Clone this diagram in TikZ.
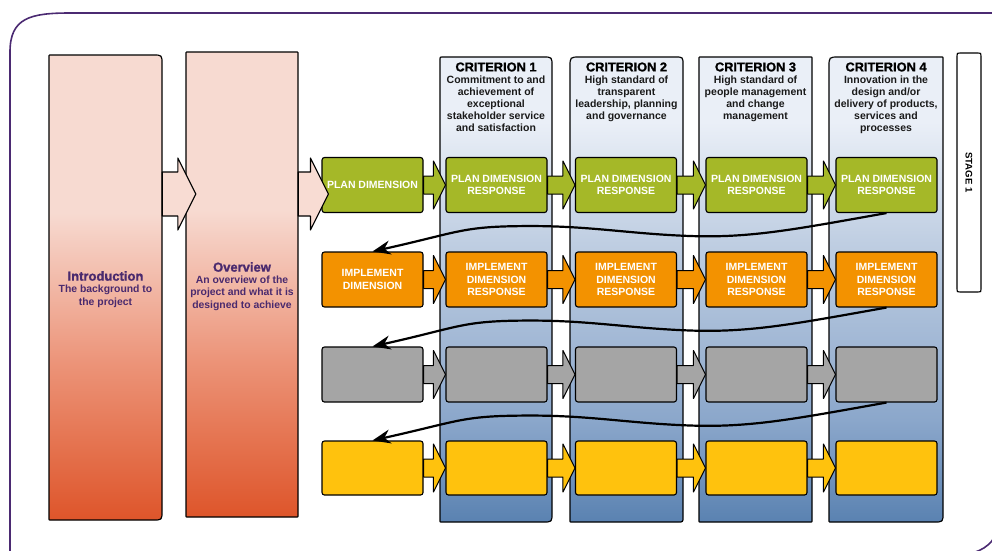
\documentclass[tikz,border=0pt]{standalone}
\usepackage{fontspec}
\setmainfont{Liberation Sans}
\newfontfamily\blackfont[FakeBold=1.2]{Liberation Sans Bold}
\usetikzlibrary{calc,arrows.meta}

\definecolor{framepurple}{HTML}{4B2A72}
\definecolor{txtpurple}{HTML}{4A2A6E}
\definecolor{pgreen}{HTML}{A5B828}
\definecolor{porange}{HTML}{F39200}
\definecolor{pgray}{HTML}{A5A5A5}
\definecolor{pyellow}{HTML}{FFC20D}
\definecolor{pinkarrow}{HTML}{F8DCD3}
\definecolor{inT}{HTML}{F7DAD1}
\definecolor{inM}{HTML}{EC9479}
\definecolor{inB}{HTML}{DE552A}
\definecolor{coT}{HTML}{EAEFF7}
\definecolor{coM}{HTML}{BFCEE2}
\definecolor{coMM}{HTML}{8BA7CB}
\definecolor{coB}{HTML}{5A82B1}
\definecolor{desctext}{HTML}{1A1A1A}

\pgfdeclareverticalshading{introshade}{100bp}{color(0bp)=(inB); color(25bp)=(inB); color(42bp)=(inM); color(58bp)=(inT); color(75bp)=(inT); color(100bp)=(inT)}
\pgfdeclareverticalshading{colshade}{100bp}{color(0bp)=(coB); color(25bp)=(coB); color(36bp)=(coMM); color(55bp)=(coM); color(68bp)=(coT); color(100bp)=(coT)}

% rounded box with individual corner radii: style, x1,y1,x2,y2, rTL,rTR,rBR,rBL
\newcommand\rbox[9]{%
  \path[#1] ({#2+#6},#3) -- ({#4-#7},#3) .. controls (#4,#3) .. (#4,{#3+#7})
    -- (#4,{#5-#8}) .. controls (#4,#5) .. ({#4-#8},#5)
    -- ({#2+#9},#5) .. controls (#2,#5) .. (#2,{#5-#9})
    -- (#2,{#3+#6}) .. controls (#2,#3) .. ({#2+#6},#3) -- cycle;}

% big pink arrow: from node, to node, y, overshoot
\newcommand\bigarrow[4]{%
  \path[bigarr] let \p1=(#1.east), \p2=(#2.west), \p3=(0,#3) in
    (\x1,{\y3+22pt}) -- ({\x2+#4pt-18pt},{\y3+22pt}) -- ({\x2+#4pt-18pt},{\y3+36pt})
    -- ({\x2+#4pt},\y3) -- ({\x2+#4pt-18pt},{\y3-36pt}) -- ({\x2+#4pt-18pt},{\y3-22pt})
    -- (\x1,{\y3-22pt}) -- cycle;}

% row arrow: colour, from node, to node
\newcommand\rowarrow[3]{%
  \path[draw=black, line width=1pt, line join=round, fill=#1] let \p1=(#2.east), \p2=(#3.west) in
    (\x1,{\y1+9pt}) -- ({\x2-12pt},{\y1+9pt}) -- ({\x2-12pt},{\y1+24pt}) -- (\x2,\y1)
    -- ({\x2-12pt},{\y1-24pt}) -- ({\x2-12pt},{\y1-9pt}) -- (\x1,{\y1-9pt}) -- cycle;}

\tikzset{
  bigbox/.style={draw=black, line width=1.2pt, line join=round, shading=introshade},
  colbox/.style={draw=black, line width=1.2pt, line join=round, shading=colshade},
  anchorbox/.style={inner sep=0pt, minimum width=#1},
  bigarr/.style={draw=black, line width=1.1pt, line join=round, fill=pinkarrow},
  rowbox/.style={draw=black, line width=1.1pt, rounded corners=2.5pt, minimum width=101pt,
    minimum height=55pt, inner sep=0pt, text=white, align=center,
    font=\bfseries\fontsize{10.5}{12.3}\selectfont},
  flow/.style={line width=2.2pt, -{Stealth[length=18pt,width=14pt]}},
  ttl/.style={text=txtpurple, font=\blackfont\fontsize{13}{15}\selectfont, inner sep=0pt},
  dsc/.style={text=txtpurple, font=\bfseries\fontsize{10.4}{12.4}\selectfont, align=center, inner sep=0pt},
  crit/.style={font=\blackfont\fontsize{12.8}{14}\selectfont, inner sep=0pt},
  critd/.style={text=desctext, font=\bfseries\fontsize{10.5}{12}\selectfont, align=center, anchor=north, inner sep=0pt},
  stagetxt/.style={font=\bfseries\fontsize{9.6}{11}\selectfont, rotate=-90, inner sep=0pt}
}

\begin{document}
\begin{tikzpicture}[x=1pt, y=-1pt]
\useasboundingbox (0,0) rectangle (992,550);
\clip (0,0) rectangle (992,550);

% outer frame
\draw[framepurple, line width=1.6pt] (10,570) -- (10,52) .. controls (10,18) and (30,13) .. (70,13)
  -- (1002,13) -- (1002,500) .. controls (1002,545) and (985,556) .. (940,557) -- (10,557);

% intro and overview panels
\rbox{bigbox}{49}{55}{162}{520}{0.6}{9}{9}{0.6}
\rbox{bigbox}{186}{52}{298}{517}{0.6}{0.6}{0.6}{0.6}
\node[anchorbox=113pt, minimum height=465pt] (intro) at (105.5,287.5) {};
\node[anchorbox=112pt, minimum height=465pt] (over) at (242,284.5) {};

% criterion columns
\rbox{colbox}{440}{57}{552}{522}{2}{9}{9}{0.6}
\rbox{colbox}{570}{57}{683}{522}{10}{8}{5}{0.6}
\rbox{colbox}{699}{57}{812}{522}{0.6}{0.6}{0.6}{0.6}
\rbox{colbox}{829}{57}{943}{522}{10}{0.6}{9}{0.6}
\node[anchorbox=112pt, minimum height=465pt] (crit1) at (496,289.5) {};
\node[anchorbox=113pt, minimum height=465pt] (crit2) at (626.5,289.5) {};
\node[anchorbox=113pt, minimum height=465pt] (crit3) at (755.5,289.5) {};
\node[anchorbox=114pt, minimum height=465pt] (crit4) at (886,289.5) {};

% stage box
\rbox{draw=black, line width=1.1pt, fill=white}{957}{53}{981}{292}{3}{3}{3}{3}
\node[stagetxt] (stage) at (969,172.5) {STAGE 1};

% big arrow intro -> overview
\bigarrow{intro}{over}{194}{10}

% row 1
\node[rowbox, fill=pgreen] (r1c0) at (372.5,185) {PLAN DIMENSION};
\node[rowbox, fill=pgreen] (r1c1) at (496.5,185) {PLAN DIMENSION\\RESPONSE};
\node[rowbox, fill=pgreen] (r1c2) at (626,185) {PLAN DIMENSION\\RESPONSE};
\node[rowbox, fill=pgreen] (r1c3) at (756.5,185) {PLAN DIMENSION\\RESPONSE};
\node[rowbox, fill=pgreen] (r1c4) at (886.5,185) {PLAN DIMENSION\\RESPONSE};
% row 2
\node[rowbox, fill=porange] (r2c0) at (372.5,279.5) {IMPLEMENT\\DIMENSION};
\node[rowbox, fill=porange] (r2c1) at (496.5,279.5) {IMPLEMENT\\DIMENSION\\RESPONSE};
\node[rowbox, fill=porange] (r2c2) at (626,279.5) {IMPLEMENT\\DIMENSION\\RESPONSE};
\node[rowbox, fill=porange] (r2c3) at (756.5,279.5) {IMPLEMENT\\DIMENSION\\RESPONSE};
\node[rowbox, fill=porange] (r2c4) at (886.5,279.5) {IMPLEMENT\\DIMENSION\\RESPONSE};
% row 3
\node[rowbox, fill=pgray] (r3c0) at (372.5,374.5) {};
\node[rowbox, fill=pgray] (r3c1) at (496.5,374.5) {};
\node[rowbox, fill=pgray] (r3c2) at (626,374.5) {};
\node[rowbox, fill=pgray] (r3c3) at (756.5,374.5) {};
\node[rowbox, fill=pgray] (r3c4) at (886.5,374.5) {};
% row 4
\node[rowbox, fill=pyellow, minimum height=54pt] (r4c0) at (372.5,468) {};
\node[rowbox, fill=pyellow, minimum height=54pt] (r4c1) at (496.5,468) {};
\node[rowbox, fill=pyellow, minimum height=54pt] (r4c2) at (626,468) {};
\node[rowbox, fill=pyellow, minimum height=54pt] (r4c3) at (756.5,468) {};
\node[rowbox, fill=pyellow, minimum height=54pt] (r4c4) at (886.5,468) {};

% big arrow overview -> plan
\bigarrow{over}{r1c0}{194}{7}

% row arrows
\rowarrow{pgreen}{r1c0}{r1c1}
\rowarrow{pgreen}{r1c1}{r1c2}
\rowarrow{pgreen}{r1c2}{r1c3}
\rowarrow{pgreen}{r1c3}{r1c4}
\rowarrow{porange}{r2c0}{r2c1}
\rowarrow{porange}{r2c1}{r2c2}
\rowarrow{porange}{r2c2}{r2c3}
\rowarrow{porange}{r2c3}{r2c4}
\rowarrow{pgray}{r3c0}{r3c1}
\rowarrow{pgray}{r3c1}{r3c2}
\rowarrow{pgray}{r3c2}{r3c3}
\rowarrow{pgray}{r3c3}{r3c4}
\rowarrow{pyellow}{r4c0}{r4c1}
\rowarrow{pyellow}{r4c1}{r4c2}
\rowarrow{pyellow}{r4c2}{r4c3}
\rowarrow{pyellow}{r4c3}{r4c4}

% return curves
\draw[flow] (r1c4.south) .. controls +(-90,16) and +(60,2) .. ++(-195,23)
  .. controls +(-60,-2) and +(60,0) .. ++(-160,-10)
  .. controls +(-70,0) and +(90,-20) .. (r2c0.north);
\draw[flow] (r2c4.south) .. controls +(-90,16) and +(60,2) .. ++(-195,23)
  .. controls +(-60,-2) and +(60,0) .. ++(-160,-10)
  .. controls +(-70,0) and +(90,-20) .. (r3c0.north);
\draw[flow] (r3c4.south) .. controls +(-90,16) and +(60,2) .. ++(-195,23)
  .. controls +(-60,-2) and +(60,0) .. ++(-160,-10)
  .. controls +(-70,0) and +(90,-20) .. (r4c0.north);

% intro / overview texts
\node[ttl] (introT) at (105.5,276) {Introduction};
\node[dsc] (introD) at (105.5,296.5) {The background to\\the project};
\node[ttl] (overT) at (242,267) {Overview};
\node[dsc] (overD) at (242,293) {An overview of the\\project and what it is\\designed to achieve};

% criterion headers
\node[crit] (t1) at (496,67) {CRITERION 1};
\node[critd] (d1) at (496,76) {Commitment to and\\achievement of\\exceptional\\stakeholder service\\and satisfaction};
\node[crit] (t2) at (626.5,67) {CRITERION 2};
\node[critd] (d2) at (626.5,76) {High standard of\\transparent\\leadership, planning\\and governance};
\node[crit] (t3) at (755.5,67) {CRITERION 3};
\node[critd] (d3) at (755.5,76) {High standard of\\people management\\and change\\management};
\node[crit] (t4) at (886,67) {CRITERION 4};
\node[critd] (d4) at (886,76) {Innovation in the\\design and/or\\delivery of products,\\services and\\processes};
\end{tikzpicture}
\end{document}
